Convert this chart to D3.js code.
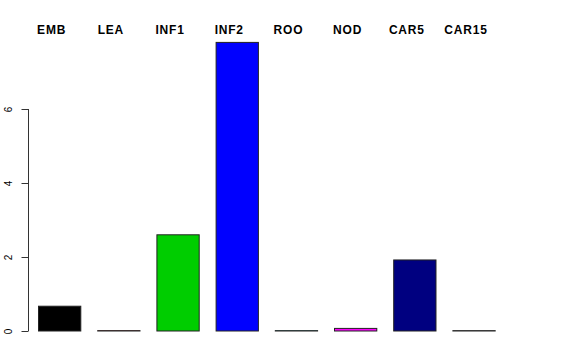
<!DOCTYPE html>
<html>
<head>
<meta charset="utf-8">
<script src="https://cdn.jsdelivr.net/npm/d3@7"></script>
<style>
  body { margin: 0; background: #fff; }
  svg { display: block; }
</style>
</head>
<body>
<div id="chart"></div>
<script>
var width = 576, height = 360;

// data
var categories = ["EMB", "LEA", "INF1", "INF2", "ROO", "NOD", "CAR5", "CAR15"];
var values = [0.67, 0.01, 2.6, 7.8, 0.01, 0.07, 1.92, 0.01];
var colors = ["#000000", "#ff0000", "#00cd00", "#0000ff", "#00ffff", "#ff00ff", "#000080", "#bebebe"];
var yTicks = [0, 2, 4, 6];

var svg = d3.select("#chart").append("svg")
  .attr("width", width)
  .attr("height", height);

var x = d3.scaleBand()
  .domain(categories)
  .range([21.6, 512.1])
  .paddingInner(0.2857)
  .paddingOuter(0.2857);

var y = d3.scaleLinear()
  .domain([0, 6])
  .range([331, 109]);

// bars
svg.append("g").selectAll("rect")
  .data(categories)
  .enter().append("rect")
  .attr("x", function(d) { return x(d); })
  .attr("y", function(d, i) { return y(values[i]); })
  .attr("width", x.bandwidth())
  .attr("height", function(d, i) { return y(0) - y(values[i]); })
  .attr("fill", function(d, i) { return colors[i]; })
  .attr("stroke", "#222")
  .attr("stroke-width", 1);

// category labels at top
svg.append("g").selectAll("text")
  .data(categories)
  .enter().append("text")
  .attr("x", function(d) { return x(d) + x.bandwidth() / 2 - 8; })
  .attr("y", 34)
  .attr("text-anchor", "middle")
  .attr("font-family", "Liberation Sans, Arial, sans-serif")
  .attr("font-weight", "bold")
  .attr("font-size", "12px")
  .attr("letter-spacing", "0.8px")
  .text(function(d) { return d; });

// y axis, R style
var axis = d3.axisLeft(y).tickValues(yTicks).tickFormat(d3.format("d")).tickSize(7).tickPadding(0);
var gy = svg.append("g")
  .attr("transform", "translate(28.5,0)")
  .call(axis);
gy.select(".domain").attr("d", "M0," + y(0) + "V" + y(6)).attr("stroke", "#333");
gy.selectAll(".tick line").attr("stroke", "#333");
gy.selectAll(".tick text")
  .attr("x", 0)
  .attr("dy", 0)
  .attr("transform", "translate(-16.5,0) rotate(-90)")
  .attr("text-anchor", "middle")
  .attr("font-family", "Liberation Sans, Arial, sans-serif")
  .attr("font-size", "10px")
  .attr("fill", "#000");
</script>
</body>
</html>
